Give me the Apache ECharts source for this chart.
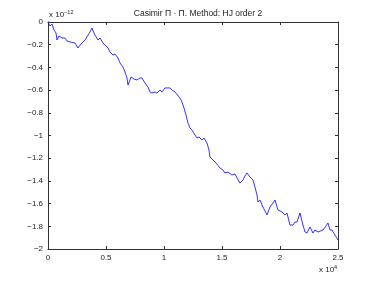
<!DOCTYPE html>
<html><head><meta charset="utf-8">
<script src="https://cdn.jsdelivr.net/npm/echarts@6/dist/echarts.min.js"></script>
<style>html,body{margin:0;padding:0;background:#fff}#c{width:374px;height:281px}</style>
</head><body><div id="c"></div>
<script>
const xs = [0,172,345,517,690,776,948,1034,1207,1466,1638,1897,2069,2328,2586,2759,2931,3190,3448,3621,3793,3966,4051,4310,4483,4741,4914,5172,5345,5603,5776,6034,6207,6465,6638,6810,6896,7069,7155,7413,7672,7930,8103,8361,8620,8792,8965,9223,9396,9655,9827,10086,10258,10517,10689,10948,11120,11379,11551,11724,11896,12069,12241,12413,12672,12844,13017,13275,13448,13706,13879,13965,14223,14482,14826,15085,15257,15516,15861,16119,16292,16550,16809,16981,17154,17412,17671,17843,18016,18102,18274,18447,18619,18878,19136,19395,19567,19826,19998,20171,20429,20602,20860,21119,21291,21464,21722,21981,22153,22326,22584,22843,23015,23274,23446,23705,23963,24136,24308,24481,24739,25000];
const ys = [0,-0.035,-0.018,-0.070,-0.097,-0.159,-0.123,-0.115,-0.141,-0.141,-0.167,-0.176,-0.159,-0.185,-0.229,-0.203,-0.185,-0.159,-0.115,-0.088,-0.053,-0.097,-0.115,-0.159,-0.141,-0.185,-0.203,-0.229,-0.264,-0.291,-0.282,-0.317,-0.361,-0.396,-0.441,-0.493,-0.555,-0.511,-0.485,-0.502,-0.511,-0.493,-0.493,-0.537,-0.573,-0.617,-0.626,-0.617,-0.626,-0.599,-0.617,-0.581,-0.573,-0.581,-0.599,-0.617,-0.626,-0.670,-0.705,-0.758,-0.819,-0.890,-0.934,-0.952,-0.996,-1.022,-1.013,-1.040,-1.022,-1.066,-1.128,-1.189,-1.216,-1.242,-1.286,-1.304,-1.330,-1.322,-1.348,-1.339,-1.374,-1.419,-1.392,-1.357,-1.330,-1.366,-1.392,-1.454,-1.524,-1.586,-1.568,-1.612,-1.595,-1.700,-1.630,-1.595,-1.568,-1.656,-1.639,-1.674,-1.700,-1.683,-1.789,-1.789,-1.762,-1.762,-1.683,-1.789,-1.850,-1.859,-1.806,-1.859,-1.833,-1.850,-1.833,-1.833,-1.797,-1.771,-1.833,-1.833,-1.877,-1.921];
const xTickLabels = ['0','0.5','1','1.5','2','2.5'];
const yTickLabels = {'0':'0','-0.2':'−0.2','-0.4':'−0.4','-0.6':'−0.6','-0.8':'−0.8','-1':'−1','-1.2':'−1.2','-1.4':'−1.4','-1.6':'−1.6','-1.8':'−1.8','-2':'−2'};
const titleText = 'Casimir Π · Π. Method: HJ order 2';

const data = xs.map((x,i)=>[x, ys[i]]);
const font = 'Liberation Sans, Arial, sans-serif';
const axCol = '#333';
const chart = echarts.init(document.getElementById('c'));
const common = {axisLine:{show:true,onZero:false,lineStyle:{color:axCol,width:1}},axisTick:{inside:true,length:3,lineStyle:{color:axCol}},splitLine:{show:false}};
chart.setOption({
  animation:false,
  backgroundColor:'#fff',
  title:{text:titleText,left:193,textAlign:'center',top:4,textStyle:{fontSize:8.5,fontWeight:'normal',color:'#222',fontFamily:font}},
  grid:{left:48,right:36,top:22,bottom:32},
  xAxis:[
    Object.assign({type:'value',min:0,max:25000,interval:5000,position:'bottom',
      axisLabel:{fontSize:8,color:'#222',fontFamily:font,margin:5,formatter:v=>xTickLabels[Math.round(v/5000)]}},common),
    Object.assign({type:'value',min:0,max:25000,interval:5000,position:'top',axisLabel:{show:false}},common)
  ],
  yAxis:[
    Object.assign({type:'value',min:-2,max:0,interval:0.2,position:'left',
      axisLabel:{fontSize:8,color:'#222',fontFamily:font,margin:5,formatter:v=>yTickLabels[String(Math.round(v*10)/10)]}},common),
    Object.assign({type:'value',min:-2,max:0,interval:0.2,position:'right',axisLabel:{show:false}},common)
  ],
  graphic:[
    {type:'text',left:49,top:9,style:{text:'x 10{s|−12}',fill:'#222',font:'8px '+font,rich:{s:{fontSize:5.5,verticalAlign:'top',padding:[0,0,6,0],fill:'#222',fontFamily:font}}}},
    {type:'text',left:319,top:264,style:{text:'x 10{s|4}',fill:'#222',font:'8px '+font,rich:{s:{fontSize:5.5,verticalAlign:'top',padding:[0,0,6,0],fill:'#222',fontFamily:font}}}}
  ],
  series:[{type:'line',data:data,showSymbol:false,lineStyle:{color:'#0000ff',width:0.8},itemStyle:{color:'#0000ff'}}]
});
</script></body></html>
